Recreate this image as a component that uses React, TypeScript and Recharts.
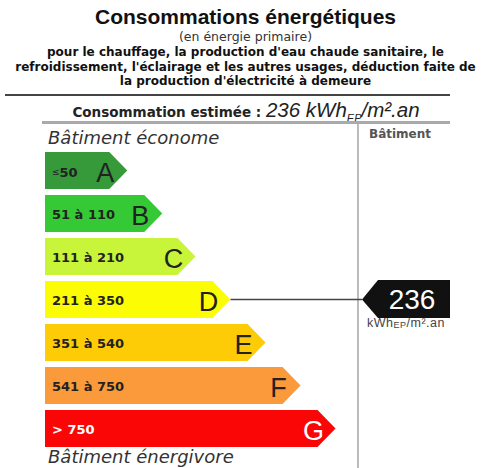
import { Bar, BarChart, XAxis, YAxis } from "recharts";

const classes = ["A", "B", "C", "D", "E", "F", "G"];
const ranges = ["≤50", "51 à 110", "111 à 210", "211 à 350", "351 à 540", "541 à 750", "> 750"];
const upperBounds = [50, 110, 210, 350, 540, 750, Infinity];
// bar length in arbitrary label units (graphical steps of the DPE scale)
const barLengths = [2.35, 3.35, 4.3, 5.3, 6.3, 7.3, 8.3];
const colors = ["#36993a", "#35c935", "#c8f53a", "#fcfc05", "#fdcc06", "#fb9a3a", "#fb0606"];
const estimated = 236;

const activeIndex = upperBounds.findIndex((b) => estimated <= b);

const data = classes.map((cls, i) => ({
    cls,
    range: ranges[i],
    length: barLengths[i],
    fill: colors[i],
}));

const MARKER_TIP = 362;
const MARKER_RIGHT = 450;

function ArrowBar(props: any) {
    const { x, y, width, height, payload, index } = props;
    const tip = 18;
    const right = x + width;
    const cy = y + height / 2;
    const pts = `${x},${y} ${right - tip},${y} ${right},${cy} ${right - tip},${y + height} ${x},${y + height}`;
    const txt = index === 6 ? "#ffffff" : "#222222";
    return (
        <g>
            <polygon points={pts} fill={payload.fill} />
            <text
                x={x + 7}
                y={cy + 1}
                dominantBaseline="central"
                fontFamily="'DejaVu Sans', Verdana, sans-serif"
                fontWeight="bold"
                fontSize={13}
                fill={txt}
            >
                {payload.range.startsWith("≤") ? (
                    <>
                        <tspan fontSize={9} fontWeight="normal">≤</tspan>
                        <tspan>{payload.range.slice(1)}</tspan>
                    </>
                ) : (
                    payload.range
                )}
            </text>
            <text
                x={right - 22}
                y={cy + 2}
                dominantBaseline="central"
                textAnchor="middle"
                fontFamily="'Liberation Sans', Arial, sans-serif"
                fontSize={27}
                fill={txt}
            >
                {payload.cls}
            </text>
            {index === activeIndex && (
                <g>
                    <line x1={right} y1={cy} x2={MARKER_TIP} y2={cy} stroke="#444" strokeWidth={1.5} />
                    <polygon
                        points={`${MARKER_TIP},${cy} ${MARKER_TIP + 16},${y - 1} ${MARKER_RIGHT},${y - 1} ${MARKER_RIGHT},${y + height} ${MARKER_TIP + 16},${y + height}`}
                        fill="#111111"
                    />
                    <text
                        x={412}
                        y={cy}
                        dominantBaseline="central"
                        textAnchor="middle"
                        fontFamily="'Liberation Sans', Arial, sans-serif"
                        fontSize={28}
                        fill="#ffffff"
                    >
                        {estimated}
                    </text>
                    <text
                        x={406}
                        y={cy + 23}
                        dominantBaseline="central"
                        textAnchor="middle"
                        fontFamily="'Liberation Sans', Arial, sans-serif"
                        fontSize={12.5}
                        letterSpacing={0.5}
                        fill="#444"
                    >
                        kWh<tspan fontSize={9} dy={2}>EP</tspan>
                        <tspan dy={-2}>/m².an</tspan>
                    </text>
                </g>
            )}
        </g>
    );
}

export default function App() {
    const sans = "'Liberation Sans', Arial, sans-serif";
    const verdana = "'DejaVu Sans', Verdana, sans-serif";
    return (
        <div
            style={{
                position: "absolute",
                left: 0,
                top: 0,
                width: 491,
                height: 468,
                background: "#fff",
                overflow: "hidden",
            }}
        >
            <div style={{ position: "absolute", top: 5, left: 0, width: 491, textAlign: "center", fontFamily: sans, color: "#111" }}>
                <div style={{ fontSize: 21, fontWeight: "bold", lineHeight: "24px" }}>Consommations énergétiques</div>
            </div>
            <div
                style={{
                    position: "absolute",
                    top: 30,
                    left: 0,
                    width: 491,
                    textAlign: "center",
                    fontFamily: verdana,
                    fontSize: 12.5,
                    lineHeight: "14px",
                    color: "#333",
                }}
            >
                (en énergie primaire)
            </div>
            <div
                style={{
                    position: "absolute",
                    top: 45,
                    left: 0,
                    width: 491,
                    textAlign: "center",
                    fontFamily: verdana,
                    fontSize: 12,
                    fontWeight: "bold",
                    lineHeight: "14.5px",
                    color: "#111",
                    whiteSpace: "nowrap",
                }}
            >
                pour le chauffage, la production d'eau chaude sanitaire, le
                <br />
                refroidissement, l'éclairage et les autres usages, déduction faite de
                <br />
                la production d'électricité à demeure
            </div>
            <div style={{ position: "absolute", top: 94, left: 5, width: 445, height: 1.5, background: "#444" }} />
            <div
                style={{
                    position: "absolute",
                    top: 98,
                    left: 42,
                    width: 408,
                    textAlign: "center",
                    color: "#222",
                    whiteSpace: "nowrap",
                }}
            >
                <span style={{ fontFamily: verdana, fontSize: 13.5, fontWeight: "bold" }}>Consommation estimée : </span>
                <span style={{ fontFamily: sans, fontSize: 20.5, fontStyle: "italic" }}>
                    {estimated} kWh<sub style={{ fontSize: 11 }}>EP</sub>/m².an
                </span>
            </div>
            <div style={{ position: "absolute", top: 121, left: 42, width: 408, height: 3, background: "#aaa" }} />
            <div style={{ position: "absolute", top: 124, left: 357, width: 1.5, height: 344, background: "#bbb" }} />
            <div
                style={{ position: "absolute", top: 127, left: 48, fontFamily: verdana, fontStyle: "italic", fontSize: 18, color: "#333" }}
            >
                Bâtiment économe
            </div>
            <div
                style={{ position: "absolute", top: 127, left: 369, fontFamily: verdana, fontWeight: "bold", fontSize: 12, color: "#555" }}
            >
                Bâtiment
            </div>
            <div
                style={{ position: "absolute", top: 446, left: 48, fontFamily: verdana, fontStyle: "italic", fontSize: 18, color: "#333" }}
            >
                Bâtiment énergivore
            </div>
            <div style={{ position: "absolute", left: 0, top: 0 }}>
                <BarChart
                    width={491}
                    height={468}
                    data={data}
                    layout="vertical"
                    margin={{ top: 149, right: 41, bottom: 18, left: 45 }}
                    barSize={37}
                >
                    <XAxis type="number" hide domain={[0, 11.57]} />
                    <YAxis type="category" dataKey="cls" hide />
                    <Bar dataKey="length" shape={<ArrowBar />} isAnimationActive={false} />
                </BarChart>
            </div>
        </div>
    );
}
